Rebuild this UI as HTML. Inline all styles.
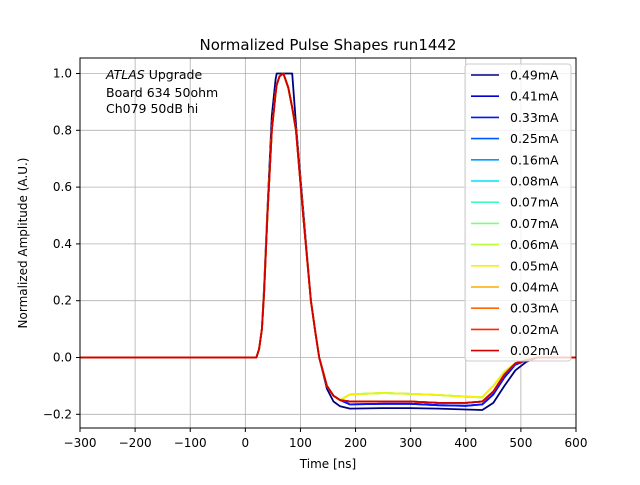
<!DOCTYPE html>
<html><head><meta charset="utf-8"><style>
body{margin:0;background:#fff;font-family:"Liberation Sans","DejaVu Sans",sans-serif;}
svg text{font-family:"DejaVu Sans","Liberation Sans",sans-serif;}
</style></head><body>
<svg id="chart" width="640" height="480" xmlns="http://www.w3.org/2000/svg">
<rect width="640" height="480" fill="#fff"/>
<text x="328" y="50" font-size="15" text-anchor="middle">Normalized Pulse Shapes run1442</text>
<g id="grid"></g><g id="series"></g>
<rect x="80" y="58" width="496" height="370" fill="none" stroke="#000" stroke-width="1"/>
<g id="ticks"></g>
<text x="328" y="468" font-size="12" text-anchor="middle">Time [ns]</text>
<text x="0" y="0" font-size="12" text-anchor="middle" transform="translate(27,243) rotate(-90)">Normalized Amplitude (A.U.)</text>
<g font-size="12.5">
<text x="106" y="79"><tspan font-style="italic">ATLAS</tspan> Upgrade</text>
<text x="106" y="97"> Board 634 50ohm</text>
<text x="106" y="113"> Ch079 50dB hi</text>
</g>
<g id="legend"></g>
</svg>
<script>
const times=[-300,0,20,25,30,34,40,48,55,57,62,69,78,85,92,105,119,127,134,148,160,172,190,250,300,350,400,430,450,470,490,510,530,560,600];
const labels=["0.49mA","0.41mA","0.33mA","0.25mA","0.16mA","0.08mA","0.07mA","0.07mA","0.06mA","0.05mA","0.04mA","0.03mA","0.02mA","0.02mA"];
const colors=["#00007f","#0000d0","#0014ff","#0058ff","#009cff","#00e0fb","#3dffba","#7cff79","#bbff3c","#f8f000","#ffac00","#ff6800","#ff2900","#d10000"];
const riseSat=[0,0,0,0.03,0.1,0.25,0.52,0.85,0.98,1.0,1.0,1.0,1.0,1.0,0.82,0.52,0.2,0.09,0.0,-0.11,-0.155,-0.172];
const riseNorm=[0,0,0,0.03,0.1,0.23,0.5,0.8,0.93,0.96,0.99,1.0,0.95,0.88,0.8,0.5,0.2,0.09,0.0,-0.1,-0.135,-0.15];
const tailSat=[-0.18,-0.178,-0.178,-0.18,-0.183,-0.185,-0.16,-0.10,-0.045,-0.015,0,0,0];
const tailMid=[-0.165,-0.163,-0.163,-0.168,-0.17,-0.165,-0.13,-0.07,-0.025,-0.01,0,0,0];
const tailNorm=[-0.155,-0.155,-0.155,-0.16,-0.16,-0.155,-0.12,-0.06,-0.02,-0.01,0,0,0];
const tailLow=[-0.13,-0.125,-0.128,-0.132,-0.138,-0.14,-0.10,-0.05,-0.02,-0.005,0,0,0];
const xTicks=[-300,-200,-100,0,100,200,300,400,500,600];
const yTicks=[-0.2,0,0.2,0.4,0.6,0.8,1.0];
const X=t=>80+(t+300)*496/900;
const Y=v=>357.5-v*284;
const ns="http://www.w3.org/2000/svg";
function mk(tag,attrs,parent){const e=document.createElementNS(ns,tag);for(const k in attrs)e.setAttribute(k,attrs[k]);parent.appendChild(e);return e;}
const grid=document.getElementById('grid'),ticks=document.getElementById('ticks');
xTicks.forEach(t=>{
 const g=mk('line',{x1:X(t),x2:X(t),y1:58,y2:428,stroke:'#b0b0b0','stroke-width':0.8},grid);
 
 mk('line',{x1:X(t),x2:X(t),y1:428,y2:432,stroke:'#000'},ticks);
 const tx=mk('text',{x:X(t),y:447,'font-size':12,'text-anchor':'middle'},ticks);
 tx.textContent=(t<0?'\u2212'+(-t):t);
 
});
yTicks.forEach(v=>{
 const g=mk('line',{x1:80,x2:576,y1:Y(v),y2:Y(v),stroke:'#b0b0b0','stroke-width':0.8},grid);
 
 mk('line',{x1:76,x2:80,y1:Y(v),y2:Y(v),stroke:'#000'},ticks);
 const tx=mk('text',{x:72,y:Y(v)+4,'font-size':12,'text-anchor':'end'},ticks);
 tx.textContent=(v<0?'\u2212':'')+Math.abs(v).toFixed(1);
 
});
const values=[
 riseSat.concat(tailSat),
 riseNorm.concat(tailMid),
 riseNorm.concat(tailMid),
 riseNorm.concat(tailNorm),
 riseNorm.concat(tailNorm),
 riseNorm.concat(tailLow),
 riseNorm.concat(tailLow),
 riseNorm.concat(tailLow),
 riseNorm.concat(tailLow),
 riseNorm.concat(tailLow),
 riseNorm.concat(tailNorm),
 riseNorm.concat(tailNorm),
 riseNorm.concat(tailNorm),
 riseNorm.concat(tailNorm)];
const sg=document.getElementById('series'),lg=document.getElementById('legend');
values.forEach((vals,i)=>{
 const d=vals.map((v,j)=>(j?'L':'M')+X(times[j]).toFixed(1)+','+Y(v).toFixed(1)).join(' ');
 const p=mk('path',{d:d,fill:'none',stroke:colors[i],'stroke-width':1.8,'stroke-linejoin':'round'},sg);
 
});
const lb=mk('rect',{x:465,y:64,width:106,height:297,fill:'#fff','fill-opacity':0.8,stroke:'#ccc',rx:3},lg);

labels.forEach((l,i)=>{
 const y=75+i*21.2;
 const ln=mk('line',{x1:471,x2:499,y1:y,y2:y,stroke:colors[i],'stroke-width':1.6},lg);
 
 const t=mk('text',{x:510,y:y+4.5,'font-size':12.5},lg);
 t.textContent=l;
 
});
</script>
</body></html>
